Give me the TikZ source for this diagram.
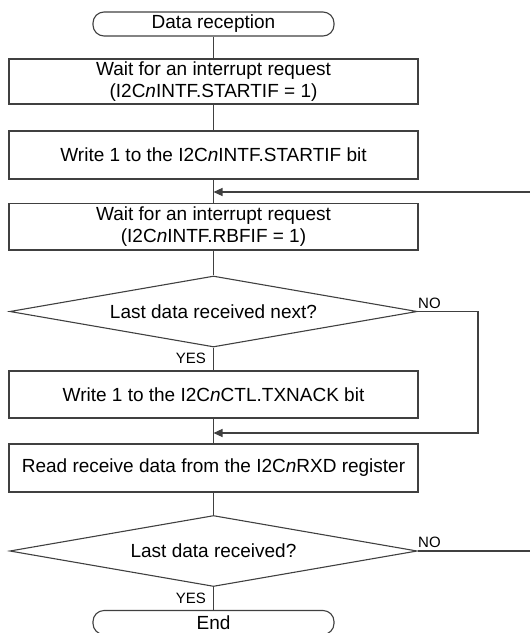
\documentclass[tikz,border=0pt]{standalone}
\usepackage{fontspec}
\setmainfont{Liberation Sans}
\usetikzlibrary{shapes.geometric,arrows.meta}
\begin{document}
\begin{tikzpicture}[x=1pt,y=-1pt,
  line/.style={draw=black!75, line width=1.1pt},
  maintext/.style={font=\fontsize{19}{22}\selectfont, text=black},
  proc/.style={line, maintext, rectangle, minimum width=409pt, inner sep=0pt, align=center},
  term/.style={line, maintext, rectangle, rounded corners=11pt, minimum width=241pt, minimum height=24pt, inner sep=0pt},
  dec/.style={line, maintext, diamond, aspect=5.74, minimum width=407.5pt, minimum height=71pt, inner sep=0pt},
  lbl/.style={font=\fontsize{15}{18}\selectfont, inner sep=0pt, text=black},
  arr/.style={line, -{Triangle[length=9pt,width=8pt]}}]
\useasboundingbox (0,0) rectangle (530,633);
\clip (0,0) rectangle (530,633);
\node[term] (start) at (213.5,24) {Data reception};
\node[proc, minimum height=45pt] (b1) at (213.5,81.5) {Wait for an interrupt request\\(I2C\textit{n}INTF.STARTIF = 1)};
\node[proc, minimum height=48pt] (b2) at (213.5,155) {Write 1 to the I2C\textit{n}INTF.STARTIF bit};
\node[proc, minimum height=46.5pt] (b3) at (213.5,226.75) {Wait for an interrupt request\\(I2C\textit{n}INTF.RBFIF = 1)};
\node[dec] (d1) at (213.5,311.5) {Last data received next?};
\node[proc, minimum height=47pt] (b4) at (213.5,394.5) {Write 1 to the I2C\textit{n}CTL.TXNACK bit};
\node[proc, minimum height=48pt] (b5) at (213.5,468) {Read receive data from the I2C\textit{n}RXD register};
\node[dec] (d2) at (213.5,551) {Last data received?};
\node[term, text depth=0pt] (end) at (213.5,622.5) {End};

\coordinate (fb) at (530,192);
\coordinate (lp) at (478,433);
\coordinate (out) at (530,551);

\draw[line] (start) -- (b1);
\draw[line] (b1) -- (b2);
\draw[line] (b2) -- (b3);
\draw[line] (b3) -- (d1);
\draw[line] (d1) -- (b4);
\draw[line] (b4) -- (b5);
\draw[line] (b5) -- (d2);
\draw[line] (d2) -- (end);
\draw[arr] (fb) -- (b2.south |- fb);
\draw[arr] (d1.east) -| (lp) -- (b4.south |- lp);
\draw[line] (d2.east) -- (out);

\node[lbl, anchor=base west] (no1) at (418,308) {NO};
\node[lbl, anchor=base west] (no2) at (418,547) {NO};
\node[lbl, anchor=base east] (yes1) at (206,363) {YES};
\node[lbl, anchor=base east] (yes2) at (206,603) {YES};
\end{tikzpicture}
\end{document}
